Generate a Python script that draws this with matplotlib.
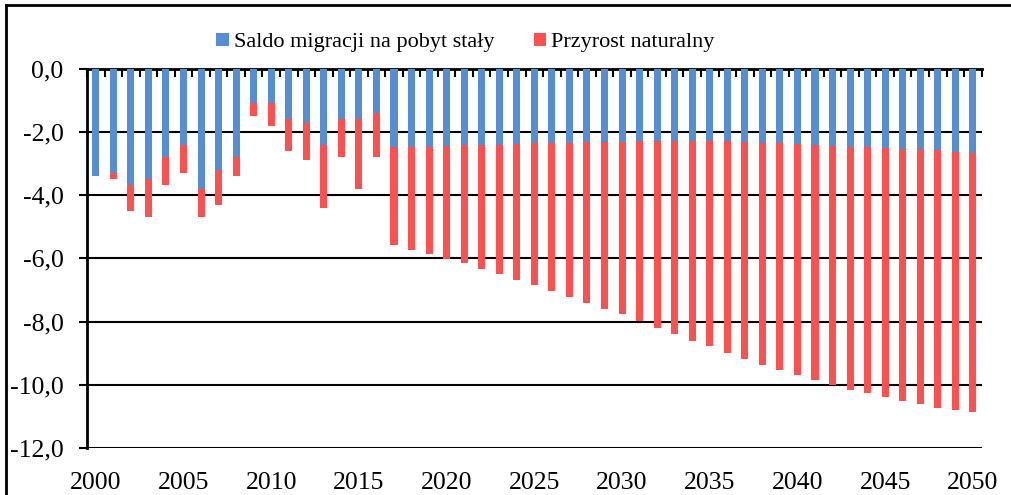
import matplotlib.pyplot as plt
import numpy as np
from matplotlib.lines import Line2D
from matplotlib.ticker import FuncFormatter

plt.rcParams['font.family'] = ['Liberation Serif', 'DejaVu Serif']

years = np.arange(2000, 2051)
# saldo migracji na pobyt staly (blue, top part)
migracja = [-3.40, -3.29, -3.69, -3.48, -2.79, -2.40, -3.79, -3.19, -2.79, -1.09,
            -1.09, -1.60, -1.71, -2.40, -1.60, -1.60, -1.39, -2.47, -2.48, -2.46,
            -2.45, -2.42, -2.42, -2.41, -2.39, -2.36, -2.35, -2.34, -2.33, -2.32,
            -2.31, -2.29, -2.29, -2.28, -2.28, -2.27, -2.29, -2.31, -2.34, -2.35,
            -2.38, -2.42, -2.43, -2.46, -2.48, -2.50, -2.54, -2.55, -2.58, -2.62,
            -2.65]
# przyrost naturalny (red, stacked below)
przyrost = [0.00, -0.21, -0.81, -1.21, -0.90, -0.89, -0.90, -1.11, -0.61, -0.41,
            -0.71, -0.99, -1.18, -2.00, -1.19, -2.19, -1.40, -3.10, -3.24, -3.40,
            -3.57, -3.74, -3.91, -4.08, -4.28, -4.49, -4.68, -4.88, -5.07, -5.27,
            -5.46, -5.69, -5.90, -6.12, -6.32, -6.50, -6.69, -6.87, -7.02, -7.19,
            -7.31, -7.43, -7.57, -7.69, -7.79, -7.90, -7.98, -8.07, -8.14, -8.17,
            -8.21]
yticks = [0, -2, -4, -6, -8, -10, -12]
xlabels = list(range(2000, 2051, 5))

fig = plt.figure(figsize=(10.12, 4.95), dpi=100)
ax = fig.add_axes([0.086, 0.095, 0.884, 0.766])

ax.bar(years, migracja, width=0.4, color='#558ED5', label='Saldo migracji na pobyt stały', zorder=3)
ax.bar(years, przyrost, width=0.4, bottom=migracja, color='#FF5050', label='Przyrost naturalny', zorder=3)

ax.set_xlim(1999.5, 2050.5)
ax.set_ylim(-12, 0)
ax.set_yticks(yticks)
ax.yaxis.set_major_formatter(FuncFormatter(lambda v, p: f'{v:.1f}'.replace('.', ',')))
ax.yaxis.grid(True, color='black', linewidth=1.5, zorder=1)

ax.set_xticks(xlabels)
ax.set_xticks(np.arange(1999.5, 2051, 1), minor=True)
ax.tick_params(axis='x', which='major', length=0, labelsize=18.5, pad=17)
ax.tick_params(axis='x', which='minor', bottom=False, top=True, direction='in', length=6, width=1.5)
ax.tick_params(axis='y', labelsize=18.5, length=6, width=1.5, pad=11)

ax.spines['right'].set_visible(False)
ax.spines['bottom'].set_visible(False)
ax.spines['top'].set_linewidth(2)
ax.spines['left'].set_linewidth(2)

fig.legend(loc='center', bbox_to_anchor=(0.46, 0.914), ncol=2, frameon=False,
           fontsize=16, handlelength=0.55, handleheight=0.55, handletextpad=0.25, columnspacing=1.75)

# outer frame of the chart (left and top edges visible)
fig.add_artist(Line2D([0.006, 0.006], [0, 0.99], color='black', linewidth=2, transform=fig.transFigure))
fig.add_artist(Line2D([0.006, 1], [0.99, 0.99], color='black', linewidth=2, transform=fig.transFigure))

plt.savefig('out.png', dpi=100)
